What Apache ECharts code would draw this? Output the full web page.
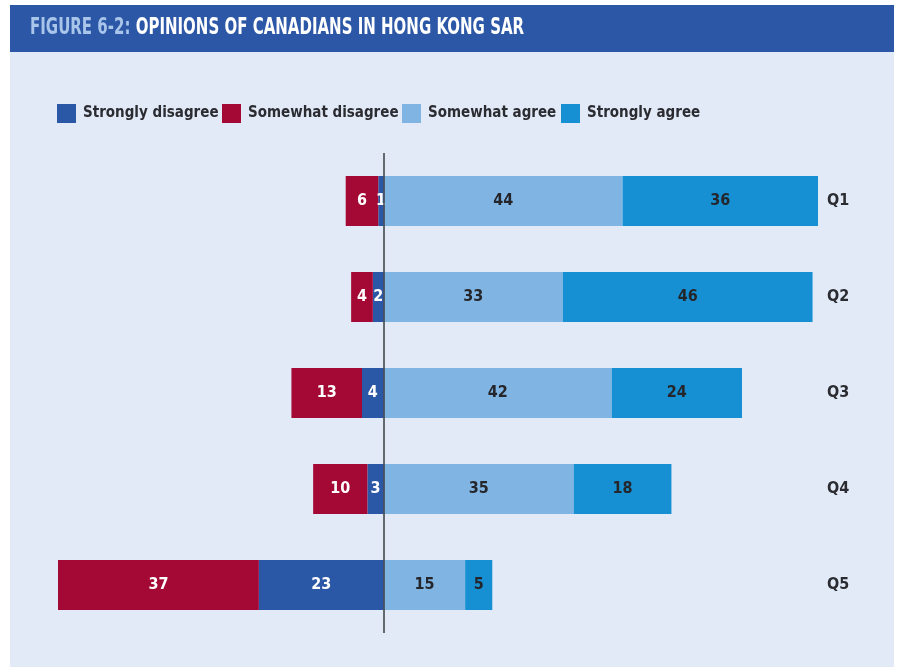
<!DOCTYPE html>
<html>
<head>
<meta charset="utf-8">
<script src="https://cdn.jsdelivr.net/npm/echarts@6/dist/echarts.min.js"></script>
<style>
html,body{margin:0;padding:0;background:#fff;}
#c{width:897px;height:667px;}
</style>
</head>
<body>
<div id="c"></div>
<script>
var categories = ['Q1', 'Q2', 'Q3', 'Q4', 'Q5'];
var seriesNames = ['Strongly disagree', 'Somewhat disagree', 'Somewhat agree', 'Strongly agree'];
var stronglyDisagree = [1, 2, 4, 3, 23];
var somewhatDisagree = [6, 4, 13, 10, 37];
var somewhatAgree = [44, 33, 42, 35, 15];
var stronglyAgree = [36, 46, 24, 18, 5];

var FONT = '"Liberation Sans Narrow", "DejaVu Sans Condensed", "Roboto Condensed", "Arial Narrow", sans-serif';
var colors = ['#2b57a7', '#a30934', '#80b5e3', '#1690d2'];
var labelColors = ['#ffffff', '#ffffff', '#25262b', '#25262b'];

function neg(a) { return a.map(function (v) { return -v; }); }
var values = [neg(stronglyDisagree), neg(somewhatDisagree), somewhatAgree, stronglyAgree];

var chart = echarts.init(document.getElementById('c'), null, { renderer: 'canvas' });

var series = seriesNames.map(function (name, i) {
  var s = {
    name: name,
    type: 'bar',
    stack: 'total',
    barWidth: 50,
    data: values[i],
    itemStyle: { color: colors[i] },
    label: {
      show: true,
      position: 'inside',
      color: labelColors[i],
      fontFamily: FONT,
      fontWeight: 'bold',
      fontSize: 16,
      formatter: function (p) { return Math.abs(p.value); }
    }
  };
  if (i === 0) {
    s.markLine = {
      silent: true,
      symbol: 'none',
      label: { show: false },
      lineStyle: { color: '#3a3d45', width: 1.5, type: 'solid' },
      data: [{ xAxis: 0 }],
      z: 10
    };
  }
  return s;
});

var legendLefts = [57, 222, 402, 561];
var legends = seriesNames.map(function (name, i) {
  return {
    data: [name],
    left: legendLefts[i],
    top: 104,
    padding: 0,
    itemWidth: 19,
    itemHeight: 19,
    itemGap: 0,
    icon: 'rect',
    selectedMode: false,
    textStyle: { fontFamily: FONT, fontWeight: 'bold', fontSize: 15, color: '#2b2c31', padding: [5, 0, 0, 2] }
  };
});

chart.setOption({
  animation: false,
  backgroundColor: '#ffffff',
  color: colors,
  graphic: [
    { type: 'rect', shape: { x: 10, y: 52, width: 884, height: 615 }, style: { fill: '#e3eaf7' }, z: -10 },
    { type: 'rect', shape: { x: 10, y: 5, width: 884, height: 47 }, style: { fill: '#2c57a6' }, z: -10 },
    {
      type: 'text', x: 30, y: 17, scaleX: 0.725, z: 10,
      style: {
        rich: {
          a: { fill: '#a9c6ea', fontFamily: FONT, fontWeight: 'bold', fontSize: 23 },
          b: { fill: '#ffffff', fontFamily: FONT, fontWeight: 'bold', fontSize: 23 }
        },
        text: '{a|FIGURE 6-2: }{b|OPINIONS OF CANADIANS IN HONG KONG SAR}'
      }
    }
  ],
  legend: legends,
  grid: { left: 58, right: 79, top: 153, height: 480, containLabel: false },
  xAxis: {
    type: 'value',
    min: -60,
    max: 80,
    show: false
  },
  yAxis: {
    type: 'category',
    data: categories,
    inverse: true,
    position: 'right',
    axisLine: { show: false },
    axisTick: { show: false },
    splitLine: { show: false },
    axisLabel: { margin: 9, fontFamily: FONT, fontWeight: 'bold', fontSize: 16, color: '#2b2c31' }
  },
  series: series
});
</script>
</body>
</html>
